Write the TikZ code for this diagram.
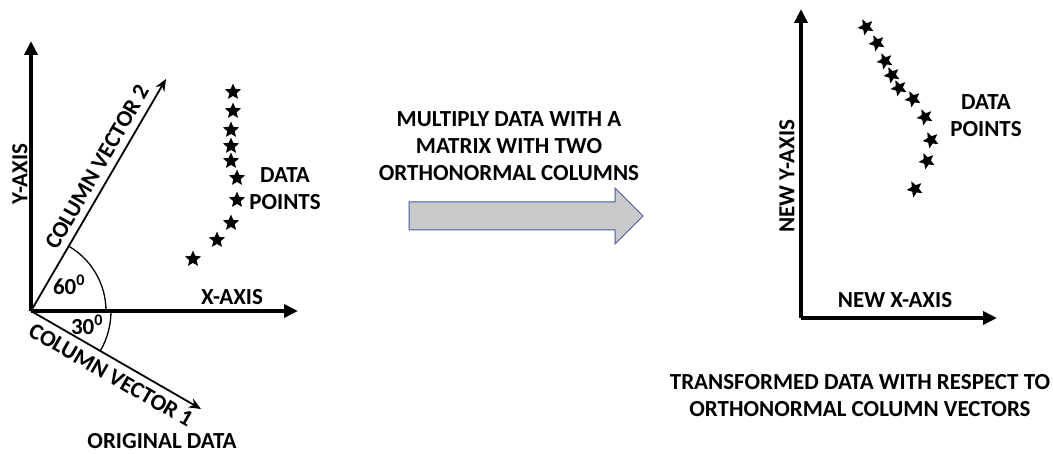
\documentclass[tikz,border=0pt]{standalone}
\usepackage{fontspec}
\setmainfont{Carlito}
\usetikzlibrary{shapes.geometric,arrows.meta}
\definecolor{arrowfill}{HTML}{C8C9C8}
\definecolor{arrowedge}{HTML}{4A5AA6}
\tikzset{
  lbl/.style={font=\bfseries\fontsize{23}{27}\selectfont, inner sep=0pt, align=center},
  axis/.style={line width=3.8pt, -{Triangle[length=14pt,width=13pt]}},
  colvec/.style={line width=1.8pt, -{Stealth[length=12pt,width=10pt]}},
  anglearc/.style={line width=1.3pt},
  datastar/.style={star, star points=5, star point ratio=2.2, fill=black, draw=none,
    minimum size=17pt, inner sep=0pt},
  bigarrow/.style={fill=arrowfill, draw=arrowedge, line width=1pt, line join=miter}
}
\begin{document}
\begin{tikzpicture}[x=1pt,y=-1pt]
\useasboundingbox (0,0) rectangle (1053,454);

% ---- original data: axes and column vectors ----
\coordinate (O) at (31,311);
\coordinate (ytip) at (31,41);
\coordinate (xtip) at (298,311);
\coordinate (cv2tip) at (166,79);
\coordinate (cv1tip) at (201,409);
\draw[axis] (O) -- (ytip);
\draw[axis] (O) -- (xtip);
\draw[colvec] (O) -- (cv2tip);
\draw[colvec] (O) -- (cv1tip);

% angle arcs (y axis points down, so angles are mirrored)
\draw[anglearc] (O) ++(0:75) arc[start angle=0, end angle=-60, radius=75];
\draw[anglearc] (O) ++(0:80) arc[start angle=0, end angle=30, radius=80];

\node[lbl] (a60) at (69,285) {60\textsuperscript{0}};
\node[lbl] (a30) at (87,325) {30\textsuperscript{0}};
\node[lbl] (xlab) at (232,297) {X-AXIS};
\node[lbl, rotate=90] (ylab) at (20,174) {Y-AXIS};
\node[lbl, rotate=60] (cv2lab) at (97,167) {COLUMN VECTOR 2};
\node[lbl, rotate=-30] (cv1lab) at (111,375) {COLUMN VECTOR 1};
\node[lbl] (orig) at (162,441) {ORIGINAL DATA};

% original data points
\foreach \px/\py [count=\i] in {233/92,233/111,231/130,231/146,231/161,237/178,237/200,231/223,217/240,193/259}
  \node[datastar] (p\i) at (\px,\py) {};
\node[lbl] (dp1) at (285,189) {DATA\\POINTS};

% ---- transformation arrow ----
\node[lbl] (mult) at (509,146) {MULTIPLY DATA WITH A\\MATRIX WITH TWO\\ORTHONORMAL COLUMNS};
\draw[bigarrow] (409,202) -- (615,202) -- (615,188) -- (643,216) -- (615,244) -- (615,230) -- (409,230) -- cycle;

% ---- transformed data ----
\coordinate (N) at (801,318);
\coordinate (nytip) at (801,9);
\coordinate (nxtip) at (997,318);
\draw[axis] (N) -- (nytip);
\draw[axis] (N) -- (nxtip);
\node[lbl] (nxlab) at (895,300) {NEW X-AXIS};
\node[lbl, rotate=90] (nylab) at (787,176) {NEW Y-AXIS};

\foreach \px/\py [count=\i] in {866/27,877/43,885/61,892/75,899/88,913/99,925/117,931/140,927/161,915/189}
  \node[datastar, rotate=25] (q\i) at (\px,\py) {};
\node[lbl] (dp2) at (986,116) {DATA\\POINTS};

\node[lbl] (trans) at (860,396) {TRANSFORMED DATA WITH RESPECT TO\\ORTHONORMAL COLUMN VECTORS};
\end{tikzpicture}
\end{document}
